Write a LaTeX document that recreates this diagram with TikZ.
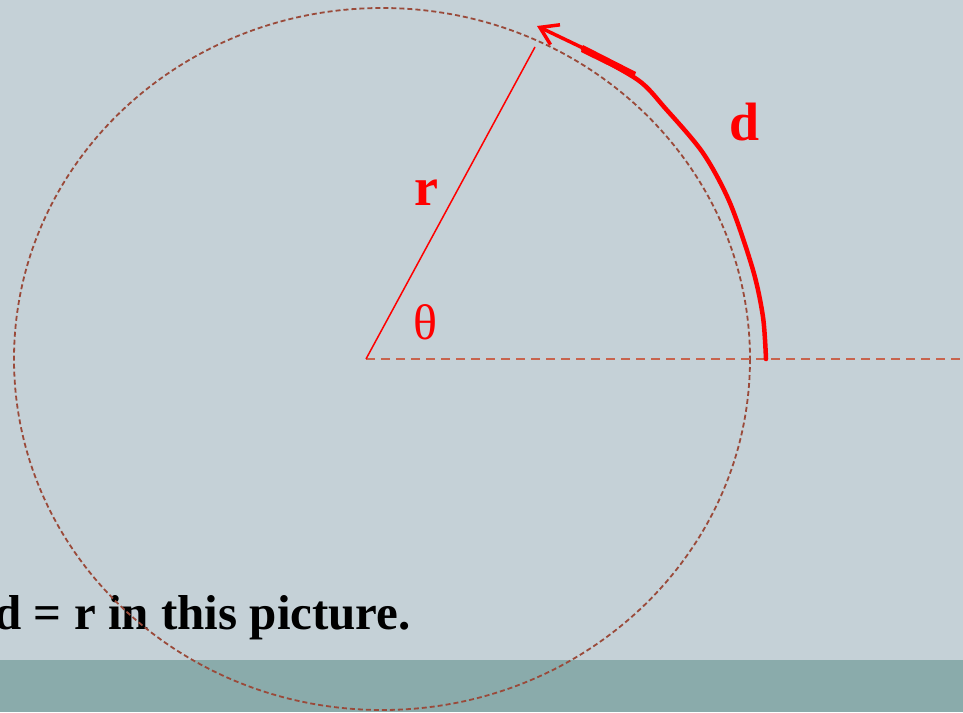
\documentclass[tikz,border=0pt]{standalone}
\usepackage{fontspec}
\setmainfont{Liberation Serif}
\usetikzlibrary{arrows.meta}
\definecolor{bg}{HTML}{C5D1D7}
\definecolor{band}{HTML}{8AABAB}
\definecolor{circ}{HTML}{9A4A3A}
\definecolor{axis}{HTML}{C8644E}
\definecolor{myred}{HTML}{FF0000}
\begin{document}
\begin{tikzpicture}[x=1pt,y=-1pt,
  circstyle/.style={draw=circ,line width=1.8pt,dash pattern=on 5pt off 3pt},
  axisstyle/.style={draw=axis,line width=2.2pt,dash pattern=on 9pt off 6pt},
  radius line/.style={draw=myred,line width=1.5pt},
  arcstyle/.style={draw=myred,line width=4.5pt,line cap=round,line join=round},
  lab/.style={text=myred,inner sep=0pt}]
\fill[bg] (0,0) rectangle (963,712);
\fill[band] (0,660) rectangle (963,712);
\useasboundingbox (0,0) rectangle (963,712);
\node[anchor=base east,inner sep=0pt,font=\fontsize{49}{54}\selectfont\bfseries] (cap) at (411,629) {d = r in this picture.};
\draw[circstyle] (382,359) ellipse [x radius=368, y radius=351];
\coordinate (O) at (366,359);
\coordinate (E) at (963,359);
\coordinate (P) at (535,47);
\draw[axisstyle] (O) -- (E);
\draw[radius line] (O) -- (P);
\coordinate (A9) at (537,26);
\draw[arcstyle] plot[smooth,tension=0.5] coordinates {(766,359) (763,317) (753,270) (730,203) (703,153) (665,108) (638,80) (583,49)};
\fill[myred] (583,45) -- (636,72) -- (634,78) -- (581,52) -- cycle;
\draw[draw=myred,line width=3.5pt,-{Straight Barb[length=17pt,width=22pt,line width=3.5pt]}] (583,48) -- (A9);
\node[lab,font=\fontsize{54}{60}\selectfont\bfseries] (d) at (745,122) {d};
\node[lab,font=\fontsize{54}{60}\selectfont\bfseries] (r) at (426,193) {r};
\node[lab,font=\fontsize{50}{56}\selectfont] (th) at (425,322) {θ};
\end{tikzpicture}
\end{document}
